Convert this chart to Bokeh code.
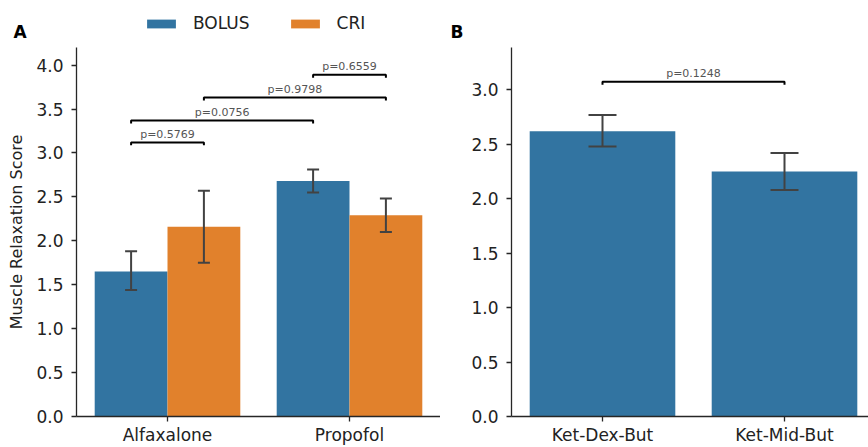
from bokeh.plotting import figure
from bokeh.models import (Range1d, FixedTicker, NumeralTickFormatter, Label,
                          Legend, LegendItem, ColumnDataSource, Whisker, TeeHead)
from bokeh.layouts import row, column
from bokeh.embed import file_html
from bokeh.resources import INLINE
from bokeh.core.properties import value

# ---------------- data ----------------
groups_a = ["Alfaxalone", "Propofol"]
hues = ["BOLUS", "CRI"]
hue_colors = ["#3274A1", "#E1812C"]
bolus_mean = [1.65, 2.68]
bolus_lo = [1.44, 2.55]
bolus_hi = [1.88, 2.81]
cri_mean = [2.16, 2.29]
cri_lo = [1.75, 2.10]
cri_hi = [2.57, 2.48]

br_left = [("Alfaxalone", "BOLUS"), ("Alfaxalone", "BOLUS"), ("Alfaxalone", "CRI"), ("Propofol", "BOLUS")]
br_right = [("Alfaxalone", "CRI"), ("Propofol", "BOLUS"), ("Propofol", "CRI"), ("Propofol", "CRI")]
br_text_a = ["p=0.5769", "p=0.0756", "p=0.9798", "p=0.6559"]
br_level_a = [3.12, 3.37, 3.63, 3.89]

groups_b = ["Ket-Dex-But", "Ket-Mid-But"]
mean_b = [2.62, 2.25]
lo_b = [2.48, 2.08]
hi_b = [2.77, 2.42]
br_pair_b = [("Ket-Dex-But", "Ket-Mid-But")]
br_text_b = ["p=0.1248"]
br_level_b = [3.075]

ticks_a = [0.0, 0.5, 1.0, 1.5, 2.0, 2.5, 3.0, 3.5, 4.0]
ticks_b = [0.0, 0.5, 1.0, 1.5, 2.0, 2.5, 3.0]
panel_letters = ["A", "B"]

FONT = "DejaVu Sans"
FONT_V = value(FONT)
AX = "#262626"
ERR = "#424242"
TXT = "#222222"

n_h = len(hues)
bar_w_a = 0.8 / n_h
hue_off = {h: (i - (n_h - 1) / 2) * bar_w_a for i, h in enumerate(hues)}


def pos_a(g, h):
    return groups_a.index(g) + hue_off[h]


def style(p, ticks):
    p.xgrid.visible = False
    p.ygrid.visible = False
    p.outline_line_color = None
    p.background_fill_color = "white"
    p.border_fill_color = "white"
    for ax in (p.xaxis[0], p.yaxis[0]):
        ax.axis_line_color = AX
        ax.axis_line_width = 1.3
        ax.major_tick_line_color = AX
        ax.major_tick_line_width = 1.3
        ax.major_tick_out = 5
        ax.major_tick_in = 0
        ax.minor_tick_line_color = None
        ax.major_label_text_font = FONT
        ax.major_label_text_font_size = "17px"
        ax.major_label_text_color = TXT
    p.yaxis[0].ticker = FixedTicker(ticks=ticks)
    p.yaxis[0].formatter = NumeralTickFormatter(format="0.0")
    p.yaxis[0].major_label_standoff = 8
    p.xaxis[0].major_label_standoff = 3


def brackets(p, x0s, x1s, levels, texts, tip):
    xs, ys, tx, ty = [], [], [], []
    for a, b, y in zip(x0s, x1s, levels):
        xs.append([a, a, b, b])
        ys.append([y - tip, y, y, y - tip])
        tx.append((a + b) / 2)
        ty.append(y)
    p.multi_line(xs=xs, ys=ys, line_color="black", line_width=2)
    p.text(x=tx, y=ty, text=texts, text_align="center", text_baseline="alphabetic",
           y_offset=-8, text_font_size="11px", text_color="#555555", text_font=FONT_V)


HEAD_H = 40
ROW_H = 447 - HEAD_H

# ---------------- panel A sources ----------------
series = {"BOLUS": (bolus_mean, bolus_lo, bolus_hi), "CRI": (cri_mean, cri_lo, cri_hi)}
sources_a = {}
for h in hues:
    m, lo, hi = series[h]
    sources_a[h] = ColumnDataSource(dict(x=[pos_a(g, h) for g in groups_a], top=m, lo=lo, hi=hi))

# ---------------- header (legend + panel letters), pixel coordinates ----------------
head = figure(width=868, height=HEAD_H, x_range=Range1d(0, 868), y_range=Range1d(0, HEAD_H),
              x_axis_location=None, y_axis_location=None, output_backend="svg",
              toolbar_location=None, min_border=0)
head.outline_line_color = None
head.grid.visible = False
proxies = []
for h, col in zip(hues, hue_colors):
    r = head.vbar(x="x", top="top", width=bar_w_a, source=sources_a[h], fill_color=col, line_color=None)
    r.visible = False  # legend proxy only; bars are drawn in panel A
    proxies.append(r)
legend = Legend(items=[LegendItem(label=h, renderers=[r]) for h, r in zip(hues, proxies)],
                orientation="horizontal", location=(143, 7), padding=0, margin=0,
                spacing=37, glyph_width=36, glyph_height=11, label_standoff=14, label_height=20,
                border_line_color=None, background_fill_alpha=0, inactive_fill_alpha=0,
                label_text_font=FONT, label_text_font_size="17px", label_text_color=TXT)
head.add_layout(legend, "center")
for letter, lx in zip(panel_letters, [13, 450]):
    head.add_layout(Label(x=lx, y=HEAD_H - 31, text=letter, text_font=FONT, text_font_size="17px",
                          text_font_style="bold", text_baseline="middle", text_align="left",
                          text_color="black"))

# ---------------- panel A ----------------
pA = figure(width=440, height=ROW_H, x_range=Range1d(-0.5, 1.5), y_range=Range1d(0, 4.2),
            output_backend="svg", toolbar_location=None,
            min_border_left=76, min_border_right=0, min_border_top=47 - HEAD_H, min_border_bottom=28)
style(pA, ticks_a)
pA.xaxis[0].ticker = FixedTicker(ticks=list(range(len(groups_a))))
pA.xaxis[0].major_label_overrides = {i: g for i, g in enumerate(groups_a)}
pA.yaxis[0].axis_label = "Muscle Relaxation Score"
pA.yaxis[0].axis_label_text_font = FONT
pA.yaxis[0].axis_label_text_font_size = "16px"
pA.yaxis[0].axis_label_text_font_style = "normal"
pA.yaxis[0].axis_label_text_color = TXT
pA.yaxis[0].axis_label_standoff = 7

for h, col in zip(hues, hue_colors):
    src = sources_a[h]
    pA.vbar(x="x", top="top", width=bar_w_a, source=src, fill_color=col, line_color=None)
    pA.add_layout(Whisker(base="x", upper="hi", lower="lo", source=src, dimension="height",
                          line_color=ERR, line_width=2, level="overlay",
                          upper_head=TeeHead(size=12, line_color=ERR, line_width=2),
                          lower_head=TeeHead(size=12, line_color=ERR, line_width=2)))

brackets(pA, [pos_a(*l) for l in br_left], [pos_a(*r) for r in br_right], br_level_a, br_text_a, 0.034)

# ---------------- panel B ----------------
pB = figure(width=428, height=ROW_H, x_range=Range1d(-0.5, 1.4615), y_range=Range1d(0, 3.39),
            output_backend="svg", toolbar_location=None,
            min_border_left=71, min_border_right=0, min_border_top=47 - HEAD_H, min_border_bottom=28)
style(pB, ticks_b)
pB.xaxis[0].ticker = FixedTicker(ticks=list(range(len(groups_b))))
pB.xaxis[0].major_label_overrides = {i: g for i, g in enumerate(groups_b)}

srcB = ColumnDataSource(dict(x=list(range(len(groups_b))), top=mean_b, lo=lo_b, hi=hi_b))
pB.vbar(x="x", top="top", width=0.8, source=srcB, fill_color=hue_colors[0], line_color=None)
pB.add_layout(Whisker(base="x", upper="hi", lower="lo", source=srcB, dimension="height",
                      line_color=ERR, line_width=2, level="overlay",
                      upper_head=TeeHead(size=28, line_color=ERR, line_width=2),
                      lower_head=TeeHead(size=28, line_color=ERR, line_width=2)))
brackets(pB, [groups_b.index(a) for a, b in br_pair_b], [groups_b.index(b) for a, b in br_pair_b],
         br_level_b, br_text_b, 0.027)

layout = column(head, row(pA, pB))
open("out.html", "w").write(file_html(layout, INLINE))
